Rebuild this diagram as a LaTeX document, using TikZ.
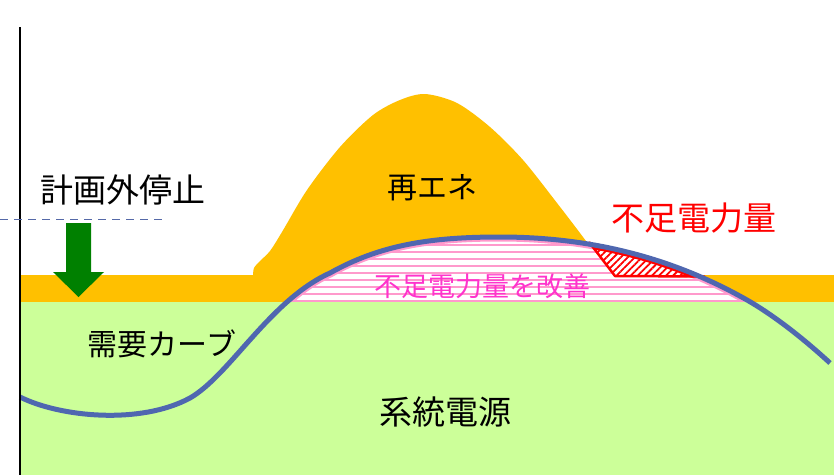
\documentclass[tikz,border=0pt]{standalone}
\usepackage{fontspec}
\setmainfont{Noto Sans CJK JP}
\usetikzlibrary{patterns.meta}
\definecolor{bandorange}{HTML}{FFC000}
\definecolor{gridgreen}{HTML}{CCFF99}
\definecolor{demandblue}{HTML}{4F67B0}
\definecolor{hatchpink}{HTML}{FF99CC}
\definecolor{textpink}{HTML}{FF33CC}
\definecolor{arrowgreen}{HTML}{008000}
\definecolor{dashblue}{HTML}{5569A8}
\def\curvepath{(20,397) .. controls (60,417) and (140,425) .. (190,398) .. controls (230,375) and (270,300) .. (330,273) .. controls (380,245) and (430,237) .. (500,237) .. controls (600,237) and (680,262) .. (747,300) .. controls (775,316) and (805,340) .. (830,363)}
\tikzset{
  label/.style={inner sep=0pt, font=\fontsize{#1}{#1}\selectfont},
  pinkline/.style={hatchpink, line width=2pt},
}
\begin{document}
\begin{tikzpicture}[x=1pt,y=-1pt]
\useasboundingbox (0,0) rectangle (834,475);
\fill[white] (0,0) rectangle (834,475);
% grid supply and base band
\fill[gridgreen] (20,301) rectangle (834,475);
\fill[bandorange] (20,275) rectangle (834,301.5);
% renewable hill
\fill[bandorange] plot[smooth,tension=0.5] coordinates {(253,276) (254,268) (260,261) (270,251) (282,232) (307,190) (340,147) (373,115) (400,100) (425,94) (457,103) (490,127) (523,160) (557,203) (583,237) (600,260) (615,277)} -- cycle;
% improved shortage region
\begin{scope}
  \clip \curvepath -- (834,475) -- (20,475) -- cycle;
  \clip (280,200) rectangle (760,301);
  \fill[white] (280,200) rectangle (760,301);
  \foreach \yy in {238,245,...,294} \draw[pinkline] (280,\yy) -- (760,\yy);
  \draw[hatchpink, line width=9pt] \curvepath;
\end{scope}
\draw[pinkline] (292,301) -- (747,301);
% shortage triangle
\begin{scope}
  \clip (589,243) -- (615,276) -- (706,277.5) -- (706,225) -- (589,225) -- cycle;
  \clip \curvepath -- (834,475) -- (20,475) -- cycle;
  \fill[white] (580,225) rectangle (710,280);
  \fill[pattern={Lines[angle=45,distance=5pt,line width=1.8pt]}, pattern color=red] (580,225) rectangle (710,280);
  \draw[red, line width=9pt] \curvepath;
\end{scope}
\draw[red, line width=2.5pt, line join=round] (589,242) -- (615,276) -- (705,276.5);
% demand curve
\draw[demandblue, line width=5pt] \curvepath;
% axis and dashed line
\coordinate (axtop) at (20,27);
\coordinate (axbot) at (20,475);
\draw[black, line width=1.3pt] (axtop) -- (axbot);
\coordinate (dl) at (0,219);
\coordinate (dr) at (167,219);
\draw[dashblue, line width=1pt, dash pattern=on 8pt off 6pt] (dl) -- (dr);
% outage arrow
\fill[arrowgreen] (66,223) -- (91,223) -- (91,272) -- (104,272) -- (78.5,297) -- (53,272) -- (66,272) -- cycle;
% labels
\node[label=33] (outage) at (123,190) {計画外停止};
\node[label=30] (renew) at (432,188) {再エネ};
\node[label=33, text=red] (short) at (694,218) {不足電力量};
\node[label=30] (demand) at (162,344) {需要カーブ};
\node[label=33] (grid) at (445,412) {系統電源};
\node[label=27, text=textpink] (improve) at (482,286) {不足電力量を改善};
\end{tikzpicture}
\end{document}
